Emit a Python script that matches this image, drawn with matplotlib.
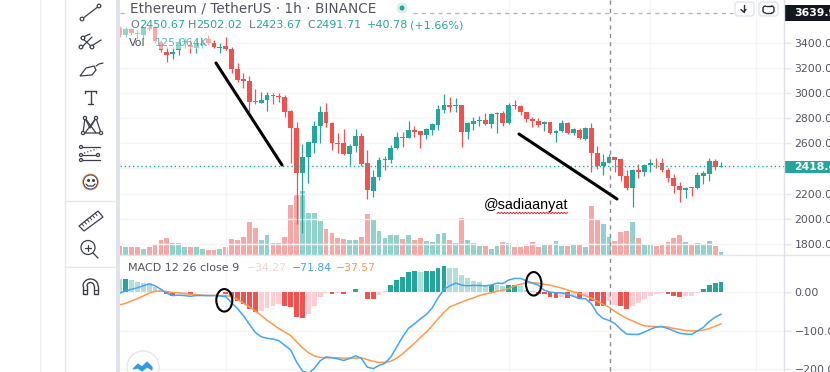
import numpy as np
import matplotlib
matplotlib.use("Agg")
import matplotlib.pyplot as plt
from matplotlib.patches import Rectangle, Ellipse, Circle, FancyBboxPatch, Polygon

plt.rcParams['font.family'] = ['DejaVu Sans']

# ---------- data (ETH/USDT 1h) ----------
opens = [3519,3464,3512,3480,3464,3519,3527,3408,3328,3312,
3344,3408,3384,3360,3384,3432,3400,3364,3376,3352,
3190,3111,3095,2938,2924,2946,2986,2978,2972,2860,
2720,2361,2489,2605,2738,2852,2765,2605,2601,2515,
2581,2659,2441,2223,2334,2465,2468,2561,2653,2645,
2707,2698,2667,2707,2746,2866,2903,2895,2906,2693,
2754,2778,2786,2754,2834,2844,2760,2906,2898,2852,
2792,2781,2757,2768,2685,2698,2760,2685,2707,2635,
2723,2521,2420,2446,2489,2473,2342,2242,2385,2374,
2428,2446,2446,2388,2326,2263,2228,2250,2242,2342,
2356,2460,2414]
closes = [3464,3512,3480,3472,3519,3511,3416,3344,3308,3328,
3408,3416,3368,3400,3400,3400,3368,3368,3352,3190,
3105,3097,2932,2927,2946,2986,2978,2970,2852,2720,
2361,2489,2613,2741,2852,2765,2601,2597,2515,2581,
2659,2436,2228,2334,2468,2473,2566,2653,2645,2707,
2693,2667,2712,2754,2872,2906,2892,2906,2693,2765,
2778,2786,2752,2834,2842,2760,2906,2895,2852,2792,
2778,2746,2768,2680,2701,2760,2685,2712,2640,2725,
2521,2420,2452,2489,2468,2342,2242,2388,2374,2428,
2446,2441,2388,2326,2260,2228,2247,2242,2348,2361,
2460,2414,2418]
highs = [3535,3528,3520,3504,3527,3535,3535,3424,3368,3368,
3440,3440,3432,3440,3440,3464,3424,3400,3448,3370,
3243,3158,3137,3031,3012,3007,3000,3000,2986,2866,
2773,2595,2613,2781,2898,2919,2773,2680,2715,2595,
2712,2680,2547,2388,2489,2499,2587,2693,2693,2778,
2739,2698,2725,2765,2906,2993,2972,2959,2906,2773,
2813,2818,2840,2840,2852,2860,2924,2946,2906,2852,
2813,2805,2781,2773,2707,2786,2768,2725,2720,2733,
2766,2579,2515,2515,2489,2481,2388,2393,2436,2436,
2473,2486,2486,2406,2356,2290,2250,2255,2369,2382,
2481,2476,2454]
lows = [3448,3448,3464,3432,3432,3496,3400,3328,3249,3272,
3304,3360,3320,3320,3360,3384,3360,3320,3344,3161,
3092,3041,2852,2914,2921,2858,2914,2932,2813,2441,
1958,1886,2282,2521,2601,2728,2547,2521,2507,2428,
2534,2420,2154,2170,2308,2388,2446,2555,2569,2640,
2653,2561,2632,2667,2707,2844,2852,2852,2574,2635,
2707,2739,2746,2725,2685,2741,2754,2872,2826,2768,
2733,2733,2701,2672,2611,2693,2675,2667,2632,2627,
2374,2393,2348,2441,2374,2300,2228,2095,2326,2340,
2374,2406,2374,2294,2207,2135,2167,2181,2236,2274,
2303,2388,2414]
volumes_k = [433,367,367,367,267,367,550,717,833,600,
567,367,367,400,267,233,233,267,367,767,
733,883,1617,1317,750,967,600,567,883,2467,
3000,3200,2083,2083,1683,1267,1083,833,767,717,
750,883,2017,1750,1183,833,1000,1000,800,967,
717,833,683,650,1033,1083,750,600,1817,717,
567,433,433,267,433,633,600,400,367,433,
633,400,517,483,667,433,433,483,483,400,
2417,1750,1533,900,700,1133,1200,1633,850,533,
500,417,483,617,817,1000,650,483,583,533,
683,450,125]
macd_hist = [32,32,30,26,23,22,13,6,-7,-11,
-3,-3,-5,-2,-2,-1,-2,-2,-5,-14,
-24,-33,-45,-52,-50,-43,-37,-33,-36,-40,
-65,-67,-57,-36,-13,-3,-5,-3,-7,-2,
8,-2,-18,-18,-9,1,16,30,37,51,
52,50,52,52,61,65,62,60,42,34,
28,24,18,18,17,15,16,17,15,3,
2,-5,-7,-15,-17,-14,-16,-11,-18,-13,
-24,-36,-38,-25,-34,-38,-44,-36,-30,-18,
-11,-5,-4,-5,-10,-15,-12,-12,-4,7,
18,23,25]
hist_strong = [1,8,9,12,16,18,19,20,21,22,23,28,29,30,31,36,38,40,41,42,43,
46,47,48,49,50,52,53,54,55,63,66,67,71,72,73,74,76,78,80,81,82,85,86,
93,94,95,99,100,101,102]
macd_line = [-4,2,6,10,15,20,15,6,-4,-10,
-9,-10,-12,-10,-10,-10,-10,-11,-13,-29,
-44,-62,-84,-105,-116,-120,-122,-126,-138,-150,
-181,-204,-210,-198,-178,-168,-170,-173,-177,-172,
-165,-172,-194,-198,-190,-184,-168,-142,-116,-94,
-83,-70,-59,-42,-16,6,15,22,17,15,
16,16,15,17,22,21,30,34,34,28,
22,17,4,-1,-3,-3,-7,-12,-18,-18,
-31,-56,-69,-74,-82,-97,-109,-110,-110,-104,
-97,-91,-90,-95,-101,-107,-109,-110,-101,-92,
-77,-66,-58]
signal_line = [-34,-30,-24,-18,-11,-4,1,2,0,-2,
-3,-5,-7,-8,-9,-10,-10,-10,-10,-13,
-20,-30,-39,-50,-61,-74,-84,-95,-104,-113,
-129,-144,-157,-165,-169,-170,-170,-170,-171,-171,
-171,-170,-175,-179,-182,-182,-179,-171,-160,-146,
-133,-118,-104,-88,-70,-53,-39,-33,-27,-21,
-16,-10,-6,-3,1,4,8,15,19,23,
23,22,19,17,13,9,4,0,-5,-10,
-17,-24,-33,-40,-51,-60,-69,-75,-82,-88,
-89,-90,-90,-91,-95,-97,-100,-101,-101,-99,
-95,-89,-83]
price_ticks = [1800,2000,2200,2400,2600,2800,3000,3200,3400]
price_tick_labels = ['1800.00','2000.00','2200.00','','2600.00','2800.00','3000.00','3200.00','3400.00']
macd_ticks = [0,-100,-200]
macd_tick_labels = ['0.00','\u2212100.00','\u2212200.00']
time_grid = [18,66,90,108]
last_price = 2418.41
high_price = 3639.95

# ---------- colours / layout ----------
UP, DOWN = '#26a69a', '#ef5350'
UP_L, DOWN_L = '#b2dfdb', '#ffcdd2'
GRID = '#f5f5f7'
TXT = '#50535e'
W, H = 830, 372
L, R, MID = 119.5, 784.0, 254.5
X0, DX = 119.7, 5.895

n = len(opens)
idx = np.arange(n)
o, c, hi, lo = map(np.array, (opens, closes, highs, lows))
up = c >= o
colors = np.where(up, UP, DOWN)

fig = plt.figure(figsize=(W/100, H/100), dpi=100, facecolor='white')
def pane(top, bottom):
    return fig.add_axes([L/W, 1-bottom/H, (R-L)/W, (bottom-top)/H])

ax_v = pane(0, MID)
ax = fig.add_axes(ax_v.get_position(), sharex=ax_v)
ax_m = pane(MID, H)
xl = ((L-X0)/DX, (R-X0)/DX)

# price pane
ax.set_ylim(1714, 3742.7)
ax_v.set_ylim(0, 12725)
ax_v.set_xlim(*xl)
ax.patch.set_alpha(0)
ax_v.yaxis.set_visible(False)
ax.set_yticks(price_ticks, price_tick_labels)
ax.set_xticks(time_grid)
ax.grid(True, color=GRID, lw=1)
ax.set_axisbelow(True)
ax_v.bar(idx, volumes_k, width=0.82, color=colors, alpha=0.5, lw=0)
ax.vlines(idx, lo, hi, colors=colors, lw=0.9, zorder=3)
body_low = np.minimum(o, c)
body_h = np.maximum(np.abs(c-o), 6)
ax.bar(idx, body_h, bottom=body_low, width=0.82, color=colors, lw=0, zorder=4)
ax.axhline(last_price, color=UP, lw=1, ls=(0, (1, 2)), zorder=5)

# MACD pane
ax_m.set_xlim(*xl)
ax_m.set_ylim(-206.7, 95.6)
ax_m.set_yticks(macd_ticks, macd_tick_labels)
ax_m.set_xticks(time_grid)
ax_m.grid(True, color=GRID, lw=1)
ax_m.set_axisbelow(True)
strong = np.isin(idx, hist_strong)
hv = np.array(macd_hist)
hist_colors = [(UP if s else UP_L) if v >= 0 else (DOWN if s else DOWN_L) for v, s in zip(hv, strong)]
ax_m.bar(idx, hv, width=0.82, color=hist_colors, lw=0, zorder=2)
ax_m.plot(idx, macd_line, color='#42a5f5', lw=1.1, zorder=4)
ax_m.plot(idx, signal_line, color='#ff9a4d', lw=1.1, zorder=3)

for a in (ax, ax_m):
    a.yaxis.tick_right()
    a.tick_params(axis='y', length=5, width=1, color='#e8e9ec', labelsize=7.8, labelcolor=TXT, pad=2.5)
    a.tick_params(axis='x', length=0, labelbottom=False)
    for s in a.spines.values():
        s.set_visible(False)
for s in ax_v.spines.values():
    s.set_visible(False)
ax_v.tick_params(axis='x', length=0, labelbottom=False)

# ---------- overlay in pixel coordinates: chrome, drawings ----------
ov = fig.add_axes([0, 0, 1, 1], facecolor='none')
ov.set_xlim(0, W)
ov.set_ylim(H, 0)
ov.axis('off')

def ln(xs, ys, color='#3c3f4a', lw=0.9, **k):
    ov.plot(xs, ys, color=color, lw=lw, solid_capstyle='round', **k)

# frame lines
ln([40, 40], [0, H], '#eeeff2', 1)
ln([64.5, 64.5], [0, H], '#e6e7eb', 1)
ov.add_patch(Rectangle((116.3, 0), 3.2, H, color='#e0e3eb', lw=0))
ln([64.5, 116], [201, 201], '#e6e7eb', 1)
ln([64.5, 116], [267, 267], '#e6e7eb', 1)
ln([L, W], [254.5, 254.5], '#e6e7eb', 1)
ln([R, R], [0, H], '#dfe1e6', 1)

# crosshair
ln([609.5, 609.5], [0, H], '#8a8d96', 1, ls=(0, (3, 3)))
ln([L, 125], [13.3, 13.3], '#b4b6bd', 1, ls=(0, (3, 3)))
ln([413, 733], [13.3, 13.3], '#b4b6bd', 1, ls=(0, (3, 3)))

# fade behind legend
ov.add_patch(Rectangle((L, 19), 91, 30, color='white', alpha=0.5, lw=0))

# price labels
ov.add_patch(Rectangle((R, 5), W-R, 16, color='#131722', lw=0))
ov.text(794, 13.3, f'{high_price:.2f}', color='white', fontsize=7.8, fontweight='bold', va='center', clip_on=False)
ov.add_patch(Rectangle((R, 160.7), W-R, 12.6, color=UP, lw=0))
ov.text(794, 167, f'{last_price:.2f}', color='white', fontsize=7.8, fontweight='bold', va='center', clip_on=False)

# buttons
for bx in (735, 759):
    ov.add_patch(FancyBboxPatch((bx, 2), 19, 14, boxstyle='round,pad=0,rounding_size=3', fc='white', ec='#e0e3eb', lw=1))
ln([743.5, 743.5], [5, 12], '#2a2e39', 1)
ln([741, 743.5, 746], [9.5, 12, 9.5], '#2a2e39', 1)
ov.add_patch(FancyBboxPatch((763, 6), 11, 7, boxstyle='round,pad=0,rounding_size=2.5', fc='white', ec='#2a2e39', lw=1))
ov.add_patch(Rectangle((766, 4), 5, 11, color='white', lw=0, zorder=3))
ln([766, 771], [6, 6], '#2a2e39', 1, zorder=4)
ln([766, 771], [13, 13], '#2a2e39', 1, zorder=4)

# rich text helper
fig.canvas.draw()
renderer = fig.canvas.get_renderer()
def chain(x, y, parts, size, **kw):
    for s, col in parts:
        t = ov.text(x, y, s, color=col, fontsize=size, va='center', ha='left', **kw)
        bb = t.get_window_extent(renderer)
        x = ov.transData.inverted().transform((bb.x1, bb.y0))[0]

G = '#6f727c'
ov.text(129.5, 9, 'Ethereum / TetherUS \u00b7 1h \u00b7 BINANCE', color=TXT, fontsize=9.85, va='center')
ov.add_patch(Circle((402, 8), 5.5, fc='#d9f0ed', lw=0))
ov.add_patch(Circle((402, 8), 2.5, fc=UP, lw=0))
ox = (130, 188, 249, 307)
for x0, (a_, b_) in zip(ox, (('O', '2450.67'), ('H', '2502.02'), ('L', '2423.67'), ('C', '2491.71'))):
    chain(x0, 25, [(a_, G), (b_, UP)], 8.0)
ov.text(367, 25, '+40.78', color=UP, fontsize=8.0, va='center')
ov.text(410, 25, '(+1.66%)', color=UP, fontsize=8.0, va='center')
ov.text(129, 43, 'Vol', color=TXT, fontsize=8.0, va='center')
ov.text(155, 43, '125.064K', color=UP, alpha=0.75, fontsize=8.0, va='center')
ov.text(128, 268, 'MACD 12 26 close 9', color=TXT, fontsize=8.0, va='center')
ov.text(247, 268, '\u221234.27', color=DOWN_L, fontsize=7.8, va='center')
ov.text(292, 268, '\u221271.84', color='#42a5f5', fontsize=7.8, va='center')
ov.text(336, 268, '\u221237.57', color='#ff9a4d', fontsize=7.8, va='center')

# hand drawings
ln([216, 282], [63, 165], 'black', 2.2)
ln([519, 617], [134, 199], 'black', 2.2)
ov.add_patch(Ellipse((224.3, 300.3), 16, 22.5, fc='none', ec='black', lw=1.5))
ov.add_patch(Ellipse((533.7, 283.8), 15.5, 23.5, fc='none', ec='black', lw=1.5))
ov.text(484, 204.5, '@sadiaanyat', family='Liberation Sans', fontsize=10.4, color='black', va='center')
zx = np.arange(497, 568.5, 1.5)
ln(zx, 213 + 0.7*(-1.0)**np.arange(len(zx)), '#d8262c', 0.7)

# toolbar icons
C = '#3c3f4a'
def ring(x, y, r=1.8, **k):
    ov.add_patch(Circle((x, y), r, fc='white', ec=C, lw=0.9, zorder=5, **k))
ln([82, 99], [19, 6], C); ring(82, 19); ring(99, 6)
ln([81, 90], [38, 34], C); ln([82, 92], [47, 37], C); ln([90, 101], [47, 40], C); ln([82, 92], [38, 47], C)
ring(81, 47); ring(92, 47); ring(83, 38)
ov.add_patch(Polygon([[80, 76], [86, 68], [94, 66], [96, 70], [92, 75]], fc='white', ec=C, lw=0.9))
ln([96, 99, 103], [66, 64, 63], C)
ln([85, 96], [91, 91], C, 1.0); ln([90.5, 90.5], [91, 104], C, 1.0); ln([88, 93], [104, 104], C, 1.0)
ln([85, 85], [91, 93], C, 1.0); ln([96, 96], [91, 93], C, 1.0)
ln([83, 101, 96, 90, 85, 83], [133, 133, 118, 128, 118, 133], C); ln([85, 96], [118, 133], C); ln([96, 85], [118, 133], C)
for p in ((85, 118), (96, 118), (83, 133), (101, 133)):
    ring(*p, r=1.6)
ln([80, 100], [147, 147], C); ln([80, 99], [155, 155], C); ln([80, 100], [160, 160], C)
ln([84, 97], [153, 149], C, ls=':')
ring(81, 147, 1.5); ring(81, 155, 1.5); ring(98, 155, 1.5); ring(81, 160, 1.5)
ov.add_patch(Circle((90.5, 182), 7.6, fc='white', ec='#e8923c', lw=1.1))
ov.add_patch(Circle((90.5, 182), 7.0, fc='none', ec='#33539e', lw=0.7))
ln([86, 88, 93, 95], [184, 186, 186, 184], C)
ov.plot([88, 93], [179.5, 179.5], 'o', color=C, ms=1.2)
ov.add_patch(Polygon([[79, 226], [98, 211], [103, 217], [84, 231]], fc='white', ec=C, lw=0.9))
for t in np.linspace(0.15, 0.85, 6):
    ln([79+19*t, 81+19*t], [226-15*t, 228.5-15*t], C, 0.7)
ov.add_patch(Circle((88, 247.5), 7, fc='white', ec=C, lw=0.9))
ln([93, 98], [253, 258], C); ln([85, 91], [247.5, 247.5], C); ln([88, 88], [244.5, 250.5], C)
th = np.linspace(np.pi, 0, 30)
ln(90.5+7.5*np.cos(th), 286-7*np.sin(th), C, 1.0); ln(90.5+3.5*np.cos(th), 286-3.5*np.sin(th), C, 1.0)
ln([83, 83, 87, 87], [286, 294, 294, 286], C, 1.0); ln([94, 94, 98, 98], [286, 294, 294, 286], C, 1.0)
ln([83, 87], [290, 290], C, 0.8); ln([94, 98], [290, 290], C, 0.8)

# logo
ov.add_patch(Circle((143, 367), 16, fc='white', ec='#e6e7eb', lw=1))
ov.add_patch(Polygon([[133, 369], [138, 364], [142, 367], [147, 362], [152, 367], [152, 370], [147, 367], [142, 371], [138, 368]],
                     fc='#2f9be8', ec='#2f9be8', lw=0.8))

fig.savefig('out.png', dpi=100, facecolor='white')
